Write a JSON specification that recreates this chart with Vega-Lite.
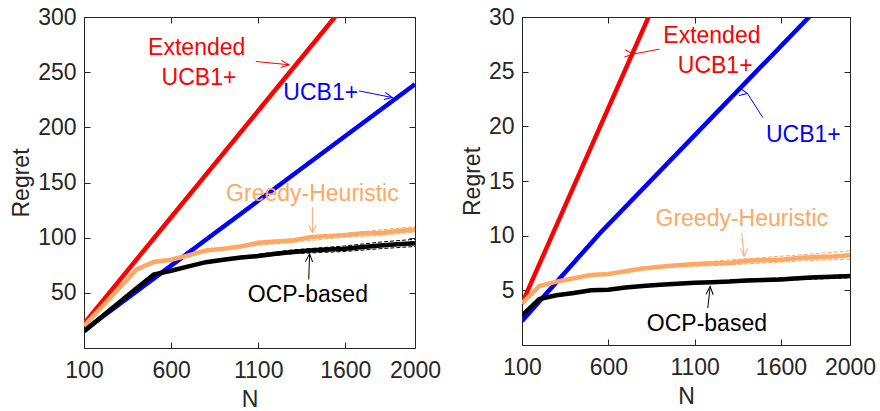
{
  "$schema": "https://vega.github.io/schema/vega-lite/v6.json",
  "autosize": {"type": "pad"},
  "padding": {"left": 10, "top": 5, "right": 2, "bottom": 5},
  "spacing": 107,
  "bounds": "flush",
  "background": "white",
  "config": {
    "font": "Liberation Sans",
    "view": {"stroke": "#262626", "strokeWidth": 1},
    "axis": {
      "grid": false, "domain": false, "tickColor": "#262626", "tickSize": -6, "tickWidth": 1,
      "labelFontSize": 23, "labelColor": "#262626", "labelFont": "Liberation Sans", "format": "d",
      "titleFontSize": 23, "titleFontWeight": "normal", "titleColor": "#262626", "titleFont": "Liberation Sans",
      "labelFlush": false, "labelOverlap": false
    }
  },
  "datasets": {
    "leftLines": [
      {"N": 100, "R": 22, "s": "ext"}, {"N": 600, "R": 118.5, "s": "ext"}, {"N": 1100, "R": 215, "s": "ext"}, {"N": 1600, "R": 311.5, "s": "ext"},
      {"N": 100, "R": 16, "s": "ucb"}, {"N": 600, "R": 74.7, "s": "ucb"}, {"N": 1100, "R": 133.4, "s": "ucb"}, {"N": 1600, "R": 192.1, "s": "ucb"}, {"N": 2000, "R": 239, "s": "ucb"},
      {"N": 100, "R": 20, "s": "greedy"}, {"N": 200, "R": 37, "s": "greedy"}, {"N": 300, "R": 54, "s": "greedy"}, {"N": 400, "R": 71, "s": "greedy"}, {"N": 500, "R": 78, "s": "greedy"}, {"N": 600, "R": 80, "s": "greedy"}, {"N": 700, "R": 84, "s": "greedy"}, {"N": 800, "R": 88.4, "s": "greedy"}, {"N": 900, "R": 90, "s": "greedy"}, {"N": 1000, "R": 92, "s": "greedy"}, {"N": 1100, "R": 95.3, "s": "greedy"}, {"N": 1200, "R": 96.5, "s": "greedy"}, {"N": 1300, "R": 97.5, "s": "greedy"}, {"N": 1400, "R": 100.5, "s": "greedy"}, {"N": 1500, "R": 101.5, "s": "greedy"}, {"N": 1600, "R": 102.3, "s": "greedy"}, {"N": 1700, "R": 104, "s": "greedy"}, {"N": 1800, "R": 104.3, "s": "greedy"}, {"N": 1900, "R": 106, "s": "greedy"}, {"N": 2000, "R": 107.4, "s": "greedy"},
      {"N": 100, "R": 15, "s": "ocp"}, {"N": 200, "R": 28, "s": "ocp"}, {"N": 300, "R": 41, "s": "ocp"}, {"N": 400, "R": 54, "s": "ocp"}, {"N": 500, "R": 66.5, "s": "ocp"}, {"N": 600, "R": 70, "s": "ocp"}, {"N": 700, "R": 74, "s": "ocp"}, {"N": 800, "R": 77.8, "s": "ocp"}, {"N": 900, "R": 80, "s": "ocp"}, {"N": 1000, "R": 82, "s": "ocp"}, {"N": 1100, "R": 83.3, "s": "ocp"}, {"N": 1200, "R": 85.5, "s": "ocp"}, {"N": 1300, "R": 87, "s": "ocp"}, {"N": 1400, "R": 88.4, "s": "ocp"}, {"N": 1500, "R": 89.2, "s": "ocp"}, {"N": 1600, "R": 89.9, "s": "ocp"}, {"N": 1700, "R": 91.5, "s": "ocp"}, {"N": 1800, "R": 93, "s": "ocp"}, {"N": 1900, "R": 94, "s": "ocp"}, {"N": 2000, "R": 95, "s": "ocp"}
    ],
    "leftBands": [
      {"N": 1000, "R": 92.5, "s": "greedy", "b": "gu"}, {"N": 1300, "R": 99, "s": "greedy", "b": "gu"}, {"N": 1600, "R": 104, "s": "greedy", "b": "gu"}, {"N": 1800, "R": 107, "s": "greedy", "b": "gu"}, {"N": 2000, "R": 110, "s": "greedy", "b": "gu"},
      {"N": 1000, "R": 91.5, "s": "greedy", "b": "gl"}, {"N": 1300, "R": 96, "s": "greedy", "b": "gl"}, {"N": 1600, "R": 100.5, "s": "greedy", "b": "gl"}, {"N": 1800, "R": 102, "s": "greedy", "b": "gl"}, {"N": 2000, "R": 105, "s": "greedy", "b": "gl"},
      {"N": 1000, "R": 83, "s": "ocp", "b": "ou"}, {"N": 1300, "R": 89, "s": "ocp", "b": "ou"}, {"N": 1600, "R": 92.5, "s": "ocp", "b": "ou"}, {"N": 1800, "R": 96, "s": "ocp", "b": "ou"}, {"N": 2000, "R": 98.5, "s": "ocp", "b": "ou"},
      {"N": 1000, "R": 81, "s": "ocp", "b": "ol"}, {"N": 1300, "R": 85.5, "s": "ocp", "b": "ol"}, {"N": 1600, "R": 87.5, "s": "ocp", "b": "ol"}, {"N": 1800, "R": 90, "s": "ocp", "b": "ol"}, {"N": 2000, "R": 92, "s": "ocp", "b": "ol"}
    ],
    "leftLabels": [
      {"N": 747, "R": 272, "t": "Extended", "s": "ext"},
      {"N": 760, "R": 245, "t": "UCB1+", "s": "ext"},
      {"N": 1459, "R": 231, "t": "UCB1+", "s": "ucb"},
      {"N": 1411, "R": 140, "t": "Greedy-Heuristic", "s": "greedy"},
      {"N": 1385, "R": 48, "t": "OCP-based", "s": "ocp"}
    ],
    "leftArrows": [
      {"N": 1086, "R": 259.7, "N2": 1277, "R2": 256.7, "s": "ext", "id": "a"},
      {"N": 1679, "R": 233, "N2": 1870, "R2": 227, "s": "ucb", "id": "b"},
      {"N": 1411, "R": 127.6, "N2": 1411, "R2": 104.3, "s": "greedy", "id": "c"},
      {"N": 1390, "R": 62, "N2": 1395, "R2": 85.3, "s": "ocp", "id": "d"}
    ],
    "rightLines": [
      {"N": 100, "R": 3.8, "s": "ext"}, {"N": 500, "R": 18.1, "s": "ext"}, {"N": 850, "R": 30.6, "s": "ext"},
      {"N": 100, "R": 2.2, "s": "ucb"}, {"N": 550, "R": 10.2, "s": "ucb"}, {"N": 1150, "R": 20, "s": "ucb"}, {"N": 1763, "R": 30, "s": "ucb"}, {"N": 1850, "R": 31.4, "s": "ucb"},
      {"N": 100, "R": 3.8, "s": "greedy"}, {"N": 200, "R": 5.4, "s": "greedy"}, {"N": 300, "R": 5.8, "s": "greedy"}, {"N": 400, "R": 6.1, "s": "greedy"}, {"N": 500, "R": 6.4, "s": "greedy"}, {"N": 600, "R": 6.5, "s": "greedy"}, {"N": 700, "R": 6.75, "s": "greedy"}, {"N": 800, "R": 7.0, "s": "greedy"}, {"N": 900, "R": 7.15, "s": "greedy"}, {"N": 1000, "R": 7.3, "s": "greedy"}, {"N": 1100, "R": 7.4, "s": "greedy"}, {"N": 1200, "R": 7.45, "s": "greedy"}, {"N": 1300, "R": 7.5, "s": "greedy"}, {"N": 1400, "R": 7.7, "s": "greedy"}, {"N": 1500, "R": 7.75, "s": "greedy"}, {"N": 1600, "R": 7.8, "s": "greedy"}, {"N": 1700, "R": 7.95, "s": "greedy"}, {"N": 1800, "R": 8.05, "s": "greedy"}, {"N": 1900, "R": 8.1, "s": "greedy"}, {"N": 2000, "R": 8.2, "s": "greedy"},
      {"N": 100, "R": 2.7, "s": "ocp"}, {"N": 200, "R": 4.2, "s": "ocp"}, {"N": 300, "R": 4.55, "s": "ocp"}, {"N": 400, "R": 4.75, "s": "ocp"}, {"N": 500, "R": 5.0, "s": "ocp"}, {"N": 600, "R": 5.05, "s": "ocp"}, {"N": 700, "R": 5.25, "s": "ocp"}, {"N": 800, "R": 5.4, "s": "ocp"}, {"N": 900, "R": 5.5, "s": "ocp"}, {"N": 1000, "R": 5.6, "s": "ocp"}, {"N": 1100, "R": 5.7, "s": "ocp"}, {"N": 1200, "R": 5.75, "s": "ocp"}, {"N": 1300, "R": 5.8, "s": "ocp"}, {"N": 1400, "R": 5.9, "s": "ocp"}, {"N": 1500, "R": 5.95, "s": "ocp"}, {"N": 1600, "R": 6.0, "s": "ocp"}, {"N": 1700, "R": 6.1, "s": "ocp"}, {"N": 1800, "R": 6.2, "s": "ocp"}, {"N": 1900, "R": 6.25, "s": "ocp"}, {"N": 2000, "R": 6.3, "s": "ocp"}
    ],
    "rightBands": [
      {"N": 900, "R": 7.2, "s": "greedy", "b": "gu"}, {"N": 1200, "R": 7.65, "s": "greedy", "b": "gu"}, {"N": 1500, "R": 8.0, "s": "greedy", "b": "gu"}, {"N": 1800, "R": 8.35, "s": "greedy", "b": "gu"}, {"N": 2000, "R": 8.6, "s": "greedy", "b": "gu"},
      {"N": 900, "R": 7.1, "s": "greedy", "b": "gl"}, {"N": 1200, "R": 7.25, "s": "greedy", "b": "gl"}, {"N": 1500, "R": 7.5, "s": "greedy", "b": "gl"}, {"N": 1800, "R": 7.75, "s": "greedy", "b": "gl"}, {"N": 2000, "R": 7.85, "s": "greedy", "b": "gl"},
      {"N": 1200, "R": 5.85, "s": "ocp", "b": "ou"}, {"N": 1600, "R": 6.15, "s": "ocp", "b": "ou"}, {"N": 2000, "R": 6.45, "s": "ocp", "b": "ou"},
      {"N": 1200, "R": 5.65, "s": "ocp", "b": "ol"}, {"N": 1600, "R": 5.9, "s": "ocp", "b": "ol"}, {"N": 2000, "R": 6.15, "s": "ocp", "b": "ol"}
    ],
    "rightLabels": [
      {"N": 1200, "R": 28.3, "t": "Extended", "s": "ext"},
      {"N": 1219, "R": 25.5, "t": "UCB1+", "s": "ext"},
      {"N": 1730, "R": 19.2, "t": "UCB1+", "s": "ucb"},
      {"N": 1373, "R": 11.5, "t": "Greedy-Heuristic", "s": "greedy"},
      {"N": 1171, "R": 1.93, "t": "OCP-based", "s": "ocp"}
    ],
    "rightArrows": [
      {"N": 896, "R": 27.06, "N2": 742, "R2": 26.6, "s": "ext", "id": "e"},
      {"N": 1495, "R": 20.8, "N2": 1406, "R2": 23.0, "s": "ucb", "id": "f"},
      {"N": 1373, "R": 10.25, "N2": 1387, "R2": 8.1, "s": "greedy", "id": "g"},
      {"N": 1176, "R": 3.37, "N2": 1190, "R2": 5.35, "s": "ocp", "id": "h"}
    ]
  },
  "hconcat": [
    {
      "width": 331, "height": 331,
      "resolve": {"axis": {"x": "independent", "y": "independent"}},
      "layer": [
        {
          "data": {"name": "leftLines"},
          "mark": {"type": "line", "strokeWidth": 4.5, "clip": true},
          "encoding": {
            "x": {"field": "N", "type": "quantitative", "scale": {"domain": [100, 2000], "nice": false}, "axis": {"values": [100, 600, 1100, 1600, 2000], "title": "N", "labelPadding": 17, "titlePadding": 6}},
            "y": {"field": "R", "type": "quantitative", "scale": {"domain": [0, 300], "nice": false}, "axis": {"values": [50, 100, 150, 200, 250, 300], "title": "Regret", "labelPadding": 14, "titlePadding": 4}},
            "color": {"field": "s", "type": "nominal", "scale": {"domain": ["ext", "ucb", "greedy", "ocp"], "range": ["#FF0000", "#0000FF", "#FDA863", "#000000"]}, "legend": null},
            "order": {"field": "N", "type": "quantitative"}
          }
        },
        {
          "data": {"name": "leftBands"},
          "mark": {"type": "line", "strokeWidth": 1, "strokeDash": [4, 2], "clip": true},
          "encoding": {
            "x": {"field": "N", "type": "quantitative", "axis": {"orient": "top", "values": [100, 600, 1100, 1600, 2000], "labels": false, "title": null}},
            "y": {"field": "R", "type": "quantitative", "axis": {"orient": "right", "values": [50, 100, 150, 200, 250, 300], "labels": false, "title": null}},
            "color": {"field": "s", "type": "nominal", "legend": null},
            "detail": {"field": "b"}
          }
        },
        {
          "data": {"name": "leftLabels"},
          "mark": {"type": "text", "fontSize": 23, "align": "center", "baseline": "middle"},
          "encoding": {
            "x": {"field": "N", "type": "quantitative", "axis": null},
            "y": {"field": "R", "type": "quantitative", "axis": null},
            "text": {"field": "t"},
            "color": {"field": "s", "type": "nominal", "legend": null}
          }
        },
        {
          "data": {"name": "leftArrows"},
          "mark": {"type": "rule", "strokeWidth": 1},
          "encoding": {
            "x": {"field": "N", "type": "quantitative", "axis": null},
            "y": {"field": "R", "type": "quantitative", "axis": null},
            "x2": {"field": "N2"},
            "y2": {"field": "R2"},
            "color": {"field": "s", "type": "nominal", "legend": null}
          }
        },
        {
          "data": {"name": "leftArrows"},
          "mark": {"type": "point", "shape": "M-0.45,1L0,0L0.45,1", "filled": false, "strokeWidth": 1, "size": 256, "opacity": 1},
          "encoding": {
            "x": {"field": "N2", "type": "quantitative", "axis": null},
            "y": {"field": "R2", "type": "quantitative", "axis": null},
            "angle": {"field": "id", "type": "nominal", "scale": {"type": "ordinal", "domain": ["a", "b", "c", "d"], "range": [95.7, 101.4, 180, 4]}, "legend": null},
            "color": {"field": "s", "type": "nominal", "legend": null}
          }
        }
      ]
    },
    {
      "width": 328, "height": 328,
      "resolve": {"axis": {"x": "independent", "y": "independent"}},
      "layer": [
        {
          "data": {"name": "rightLines"},
          "mark": {"type": "line", "strokeWidth": 4.5, "clip": true},
          "encoding": {
            "x": {"field": "N", "type": "quantitative", "scale": {"domain": [100, 2000], "nice": false}, "axis": {"values": [100, 600, 1100, 1600, 2000], "title": "N", "labelPadding": 17, "titlePadding": 6}},
            "y": {"field": "R", "type": "quantitative", "scale": {"domain": [0, 30], "nice": false}, "axis": {"values": [5, 10, 15, 20, 25, 30], "title": "Regret", "labelPadding": 14, "titlePadding": 4}},
            "color": {"field": "s", "type": "nominal", "scale": {"domain": ["ext", "ucb", "greedy", "ocp"], "range": ["#FF0000", "#0000FF", "#FDA863", "#000000"]}, "legend": null},
            "order": {"field": "N", "type": "quantitative"}
          }
        },
        {
          "data": {"name": "rightBands"},
          "mark": {"type": "line", "strokeWidth": 1, "strokeDash": [4, 2], "clip": true},
          "encoding": {
            "x": {"field": "N", "type": "quantitative", "axis": {"orient": "top", "values": [100, 600, 1100, 1600, 2000], "labels": false, "title": null}},
            "y": {"field": "R", "type": "quantitative", "axis": {"orient": "right", "values": [5, 10, 15, 20, 25, 30], "labels": false, "title": null}},
            "color": {"field": "s", "type": "nominal", "legend": null},
            "detail": {"field": "b"}
          }
        },
        {
          "data": {"name": "rightLabels"},
          "mark": {"type": "text", "fontSize": 23, "align": "center", "baseline": "middle"},
          "encoding": {
            "x": {"field": "N", "type": "quantitative", "axis": null},
            "y": {"field": "R", "type": "quantitative", "axis": null},
            "text": {"field": "t"},
            "color": {"field": "s", "type": "nominal", "legend": null}
          }
        },
        {
          "data": {"name": "rightArrows"},
          "mark": {"type": "rule", "strokeWidth": 1},
          "encoding": {
            "x": {"field": "N", "type": "quantitative", "axis": null},
            "y": {"field": "R", "type": "quantitative", "axis": null},
            "x2": {"field": "N2"},
            "y2": {"field": "R2"},
            "color": {"field": "s", "type": "nominal", "legend": null}
          }
        },
        {
          "data": {"name": "rightArrows"},
          "mark": {"type": "point", "shape": "M-0.45,1L0,0L0.45,1", "filled": false, "strokeWidth": 1, "size": 256, "opacity": 1},
          "encoding": {
            "x": {"field": "N2", "type": "quantitative", "axis": null},
            "y": {"field": "R2", "type": "quantitative", "axis": null},
            "angle": {"field": "id", "type": "nominal", "scale": {"type": "ordinal", "domain": ["e", "f", "g", "h"], "range": [259.4, 327.6, 174.4, 6]}, "legend": null},
            "color": {"field": "s", "type": "nominal", "legend": null}
          }
        }
      ]
    }
  ]
}
